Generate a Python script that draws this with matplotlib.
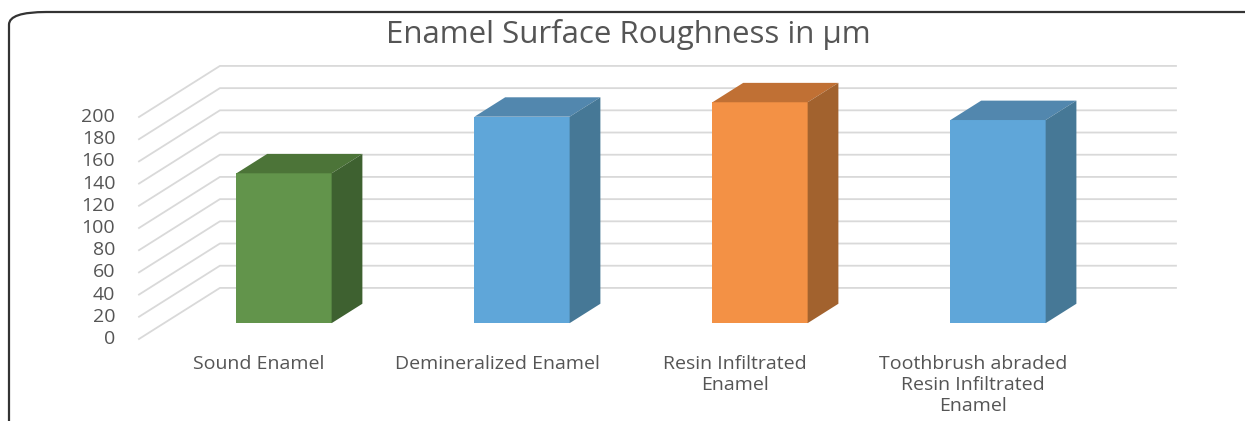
import matplotlib.pyplot as plt
from matplotlib.patches import Polygon, FancyBboxPatch

# chart values
categories = ['Sound Enamel', 'Demineralized Enamel', 'Resin Infiltrated\nEnamel',
              'Toothbrush abraded\nResin Infiltrated\nEnamel']
values = [135, 186, 199, 183]
ticks = [0, 20, 40, 60, 80, 100, 120, 140, 160, 180, 200]

front_colors = ['#62944b', '#5fa6d9', '#f39145', '#5fa6d9']
top_colors = ['#4c7438', '#5287ae', '#c07034', '#5287ae']
side_colors = ['#3e6130', '#467896', '#a2622e', '#467896']

TEXT = '#555555'
GRID = '#d9d9d9'
# fake 3d depth, in data units
DX = 0.34
DY = 46.0
HALF = 0.2
D0, D1 = 0.31, 0.69


def proj(x, v, d):
    return (x + d * DX, v + d * DY)


plt.rcParams['font.family'] = ['Open Sans', 'DejaVu Sans']
fig = plt.figure(figsize=(12.45, 4.21), dpi=100)
ax = fig.add_axes([0, 0, 1, 1])
ax.set_xlim(-1.088, 4.143)
ax.set_ylim(-73.9, 305.4)
ax.axis('off')

# border
fig.patches.append(FancyBboxPatch((9 / 1245, -0.2), 1.2, 1.2 - 12 / 421,
                                  boxstyle='round,pad=0,rounding_size=0.03',
                                  transform=fig.transFigure, fill=False,
                                  edgecolor='#333333', linewidth=1.6))

x_left, x_right = -0.504, 3.513
for t in ticks:
    p0 = proj(x_left, t, 0)
    p1 = proj(x_left, t, 1)
    p2 = proj(x_right, t, 1)
    ax.plot([p0[0], p1[0], p2[0]], [p0[1], p1[1], p2[1]], color=GRID, lw=1.3, zorder=1)
    ax.text(x_left - 0.1, t, str(t), ha='right', va='center', fontsize=14, color=TEXT)

for i, v in enumerate(values):
    xl, xr = i - HALF, i + HALF
    front = [proj(xl, 0, D0), proj(xr, 0, D0), proj(xr, v, D0), proj(xl, v, D0)]
    top = [proj(xl, v, D0), proj(xr, v, D0), proj(xr, v, D1), proj(xl, v, D1)]
    side = [proj(xr, 0, D0), proj(xr, 0, D1), proj(xr, v, D1), proj(xr, v, D0)]
    ax.add_patch(Polygon(front, closed=True, facecolor=front_colors[i], edgecolor='none', zorder=3))
    ax.add_patch(Polygon(top, closed=True, facecolor=top_colors[i], edgecolor='none', zorder=3))
    ax.add_patch(Polygon(side, closed=True, facecolor=side_colors[i], edgecolor='none', zorder=3))
    ax.text(i, -14, categories[i], ha='center', va='top', fontsize=14, color=TEXT,
            linespacing=1.22)

fig.text(0.505, 0.918, 'Enamel Surface Roughness in µm', ha='center', va='center',
         fontsize=22.5, color=TEXT)

fig.savefig('out.png', dpi=100)
